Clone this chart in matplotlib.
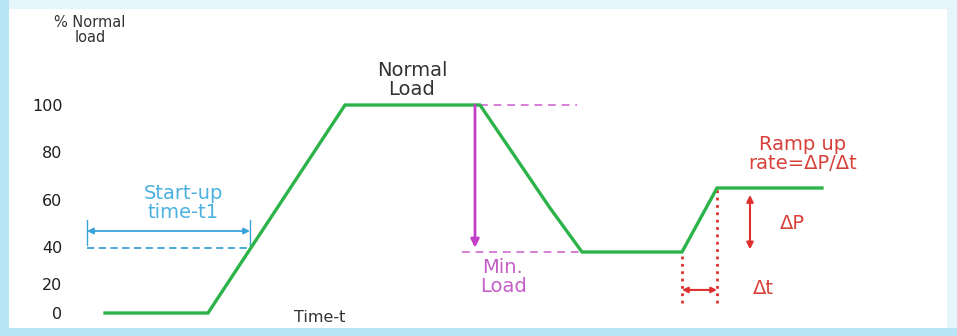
#!/usr/bin/env python3
# load profile sketch: start-up, normal load, min load and ramp up
import numpy as np
import matplotlib
matplotlib.use('Agg')
import matplotlib.pyplot as plt
from matplotlib.patches import Rectangle

# green load curve (time in arbitrary units, load in % of normal)
time = [0, 10.3, 24, 37.5, 44.5, 47.7, 57.7, 61.2, 71.7]
load = [0, 0, 100, 100, 56.6, 37.3, 37.3, 65, 65]

yticks = [0, 20, 40, 60, 80, 100]

# the reference spaces its y ticks unevenly, so the scale follows these knots
scale_vals = [-20, 0, 20, 40, 60, 80, 100, 160]
scale_h = [-6, 23, 52, 89, 136, 184, 231, 372]

# start-up marker
startup_t = [-1.8, 14.5]
startup_arrow_y = 46.8
startup_tick_y = [40.9, 51.5]
startup_dash_y = 39.6

# normal -> min load drop
drop_t = 37.0
normal_dash_t = [37.5, 47.2]
min_dash_t = [35.7, 47.7]
normal_load = 100
min_load = 37.3
drop_arrow_end = 39.6

# ramp up marker
ramp_t = [57.7, 61.2]
ramp_low = 37.3
ramp_high = 65
ramp_floor = 6.9
dt_arrow_y = 15.9
dp_t = 64.5
dp_range = [62.1, 38.7]


def fwd(v):
    return np.interp(v, scale_vals, scale_h)


def inv(h):
    return np.interp(h, scale_h, scale_vals)


def main():
    fig = plt.figure(figsize=(9.57, 3.36), dpi=100)
    fig.patch.set_facecolor('#b9e6f7')
    #white page with pale strips on top and right, like the screenshot frame
    fig.add_artist(Rectangle((9/957, 8/336), 948/957, 328/336, transform=fig.transFigure,
                             facecolor='#e6f5fb', edgecolor='none', zorder=-6))
    fig.add_artist(Rectangle((9/957, 8/336), 938/957, 319/336, transform=fig.transFigure,
                             facecolor='white', edgecolor='none', zorder=-5))

    ax = fig.add_axes([72/957, 0, 1-72/957, 1])
    ax.set_facecolor('none')
    ax.set_yscale('function', functions=(fwd, inv))
    ax.set_xlim(-3.3, 85.2)
    ax.set_ylim(inv(0), inv(336))
    for s in ax.spines.values():
        s.set_visible(False)
    ax.set_xticks([])
    ax.set_yticks(yticks)
    ax.set_yticklabels([str(v) for v in yticks])
    ax.tick_params(axis='y', length=0, pad=7, labelsize=11.5, labelcolor='#1e1e1e')
    ax.minorticks_off()

    green = '#2cb34a'
    magenta = '#c23fc8'
    blue = '#3aa3d9'
    red = '#e0302e'
    dark = '#333333'

    ax.plot(time, load, color=green, lw=2.4, solid_joinstyle='miter', zorder=3)

    #start-up time
    ax.annotate('', xy=(startup_t[0], startup_arrow_y), xytext=(startup_t[1], startup_arrow_y),
                arrowprops=dict(arrowstyle='<|-|>', color=blue, lw=1.3, mutation_scale=9,
                                shrinkA=0, shrinkB=0))
    for t in startup_t:
        ax.plot([t, t], startup_tick_y, color=blue, lw=1)
    ax.plot(startup_t, [startup_dash_y, startup_dash_y], color=blue, lw=1.3, ls=(0, (4, 2.5)))
    ax.text(7.8, 58.7, 'Start-up\ntime-t1', color='#4cb0e0', fontsize=14, ha='center',
            va='center', linespacing=0.95)

    #normal load / min load
    ax.plot(normal_dash_t, [normal_load, normal_load], color='#d77fd6', lw=1.4, ls=(0, (4, 3)))
    ax.plot(min_dash_t, [min_load, min_load], color='#d77fd6', lw=1.4, ls=(0, (4, 3)))
    ax.annotate('', xy=(drop_t, drop_arrow_end), xytext=(drop_t, normal_load),
                arrowprops=dict(arrowstyle='-|>', color=magenta, lw=2, mutation_scale=12,
                                shrinkA=0, shrinkB=0))
    ax.text(30.7, 110.6, 'Normal\nLoad', color=dark, fontsize=14, ha='center', va='center',
            linespacing=0.95)
    ax.text(39.8, 23.8, 'Min.\nLoad', color='#c45ec8', fontsize=14, ha='center', va='center',
            linespacing=0.95)

    #ramp up
    ax.plot([ramp_t[0], ramp_t[0]], [ramp_floor, ramp_low], color=red, lw=2, ls=':')
    ax.plot([ramp_t[1], ramp_t[1]], [ramp_floor, ramp_high], color=red, lw=2, ls=':')
    ax.annotate('', xy=(ramp_t[0], dt_arrow_y), xytext=(ramp_t[1], dt_arrow_y),
                arrowprops=dict(arrowstyle='<|-|>', color=red, lw=1.5, mutation_scale=8,
                                shrinkA=0, shrinkB=0))
    ax.annotate('', xy=(dp_t, dp_range[0]), xytext=(dp_t, dp_range[1]),
                arrowprops=dict(arrowstyle='<|-|>', color=red, lw=1.5, mutation_scale=10,
                                shrinkA=0, shrinkB=0))
    ax.text(69.8, 79.2, 'Ramp up\nrate=ΔP/Δt', color='#d8403a', fontsize=14, ha='center',
            va='center', linespacing=0.95)
    ax.text(68.7, 50.2, 'ΔP', color='#d8403a', fontsize=14, ha='center', va='center')
    ax.text(65.8, 17.2, 'Δt', color='#d8403a', fontsize=14, ha='center', va='center')

    #axis names
    ax.text(-1.5, 131.9, '% Normal\nload', color=dark, fontsize=10.5, ha='center', va='center',
            linespacing=0.95)
    ax.text(21.5, -3.4, 'Time-t', color=dark, fontsize=11.5, ha='center', va='center')

    fig.savefig('out.png', dpi=100, facecolor=fig.get_facecolor())


if __name__ == "__main__":
    main()
